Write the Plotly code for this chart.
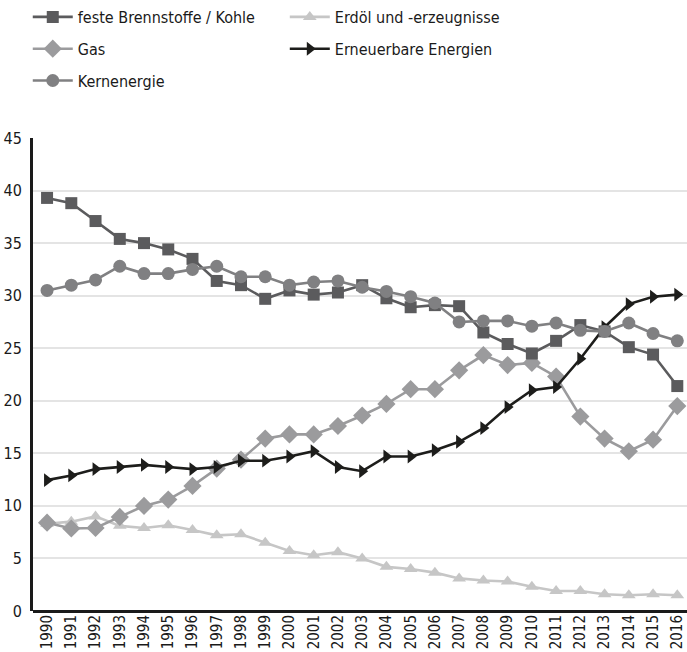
import plotly.graph_objects as go

years = list(range(1990, 2017))

kohle = [39.3, 38.8, 37.1, 35.4, 35.0, 34.4, 33.5, 31.4, 31.0, 29.7, 30.5, 30.1, 30.3, 31.0,
         29.75, 28.9, 29.1, 29.0, 26.5, 25.4, 24.5, 25.7, 27.2, 26.6, 25.1, 24.4, 21.4]
erdoel = [8.3, 8.5, 9.0, 8.1, 7.9, 8.15, 7.7, 7.2, 7.3, 6.5, 5.7, 5.3, 5.6, 5.0,
          4.2, 4.0, 3.65, 3.1, 2.9, 2.8, 2.3, 1.9, 1.9, 1.6, 1.5, 1.6, 1.5]
gas = [8.4, 7.85, 7.9, 8.95, 10.0, 10.6, 11.9, 13.55, 14.4, 16.4, 16.8, 16.8, 17.6, 18.6,
       19.7, 21.1, 21.1, 22.9, 24.35, 23.4, 23.6, 22.3, 18.5, 16.4, 15.2, 16.3, 19.5]
erneuerbar = [12.45, 12.9, 13.5, 13.7, 13.9, 13.7, 13.5, 13.7, 14.3, 14.3, 14.7, 15.2, 13.7, 13.3,
              14.7, 14.7, 15.3, 16.1, 17.4, 19.4, 21.0, 21.3, 24.0, 27.0, 29.2, 29.9, 30.1]
kern = [30.5, 31.0, 31.5, 32.8, 32.1, 32.1, 32.5, 32.8, 31.8, 31.8, 31.0, 31.3, 31.4, 30.8,
        30.4, 29.9, 29.3, 27.5, 27.6, 27.6, 27.1, 27.4, 26.7, 26.6, 27.4, 26.4, 25.7]

FONT = "DejaVu Sans Condensed, Liberation Sans Narrow, sans-serif"

series = [
    # name, values, colour, marker symbol, marker size, legend, group
    ("Erdöl und -erzeugnisse", erdoel, "#c6c6c6", "triangle-up", 12, "legend2", "a"),
    ("Gas", gas, "#9b9b9d", "diamond", 14, "legend", "b"),
    ("Erneuerbare Energien", erneuerbar, "#1d1d1b", "triangle-right", 12, "legend2", "c"),
    ("feste Brennstoffe / Kohle", kohle, "#5b5b5d", "square", 12, "legend", "d"),
    ("Kernenergie", kern, "#808082", "circle", 13, "legend", "e"),
]
rank = {"feste Brennstoffe / Kohle": 1, "Gas": 2, "Kernenergie": 3,
        "Erdöl und -erzeugnisse": 1, "Erneuerbare Energien": 2}

fig = go.Figure()
for name, vals, col, sym, size, leg, grp in series:
    fig.add_trace(go.Scatter(
        x=years, y=vals, name=name, mode="lines+markers",
        line=dict(color=col, width=2.6),
        marker=dict(symbol=sym, size=size, color=col),
        legend=leg, legendgroup=grp, legendrank=rank[name],
    ))

legend_common = dict(
    font=dict(family=FONT, size=16, color="#1a1a1a"),
    orientation="v", tracegroupgap=8, bgcolor="rgba(0,0,0,0)",
    yanchor="top", xanchor="left", itemwidth=40,
)

fig.update_layout(
    width=687, height=652,
    margin=dict(l=33, r=0, t=138, b=41),
    paper_bgcolor="white", plot_bgcolor="white",
    font=dict(family=FONT, color="#1a1a1a"),
    showlegend=True,
    legend=dict(x=-0.008, y=1.293, **legend_common),
    legend2=dict(x=0.385, y=1.293, **legend_common),
    xaxis=dict(
        range=[1989.42, 2016.4], tickmode="array", tickvals=years,
        ticktext=[str(y) for y in years], tickangle=-90,
        tickfont=dict(family=FONT, size=15, color="#1a1a1a"),
        showgrid=False, zeroline=False, showline=False, ticks="",
    ),
    yaxis=dict(
        range=[0, 45], tickmode="linear", tick0=0, dtick=5,
        tickfont=dict(family=FONT, size=16, color="#1a1a1a"),
        showgrid=True, gridcolor="#e4e4e4", gridwidth=1.5,
        zeroline=True, zerolinecolor="#1a1a1a", zerolinewidth=3,
        showline=True, linecolor="#1a1a1a", linewidth=3, ticks="", ticklabelstandoff=5,
    ),
)

fig.write_html("out.html")
